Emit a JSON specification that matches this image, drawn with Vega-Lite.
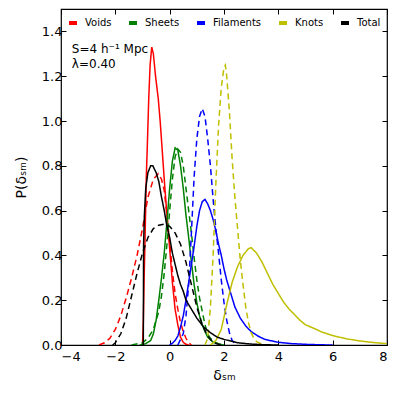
{
  "$schema": "https://vega.github.io/schema/vega-lite/v6.json",
  "width": 326,
  "height": 336,
  "autosize": "none",
  "padding": {"left": 61, "top": 9, "right": 12, "bottom": 51},
  "config": {
    "font": "DejaVu Sans",
    "view": {"stroke": "#000", "strokeWidth": 1.2},
    "axis": {"domain": false, "grid": false, "ticks": true, "tickColor": "#000", "tickSize": -5, "tickWidth": 1, "labelColor": "#000", "labelFontSize": 13, "titleColor": "#000", "titleFontWeight": "normal"}
  },
  "datasets": {
    "curves": [
      {"series": "Voids", "type": "solid", "x": -1.0, "y": 0},
      {"series": "Voids", "type": "solid", "x": -0.97, "y": 0.1},
      {"series": "Voids", "type": "solid", "x": -0.94, "y": 0.3},
      {"series": "Voids", "type": "solid", "x": -0.91, "y": 0.45},
      {"series": "Voids", "type": "solid", "x": -0.86, "y": 0.75},
      {"series": "Voids", "type": "solid", "x": -0.82, "y": 0.9},
      {"series": "Voids", "type": "solid", "x": -0.77, "y": 1.1},
      {"series": "Voids", "type": "solid", "x": -0.72, "y": 1.25},
      {"series": "Voids", "type": "solid", "x": -0.66, "y": 1.33},
      {"series": "Voids", "type": "solid", "x": -0.6, "y": 1.3},
      {"series": "Voids", "type": "solid", "x": -0.52, "y": 1.2},
      {"series": "Voids", "type": "solid", "x": -0.42, "y": 1.1},
      {"series": "Voids", "type": "solid", "x": -0.35, "y": 1.0},
      {"series": "Voids", "type": "solid", "x": -0.28, "y": 0.88},
      {"series": "Voids", "type": "solid", "x": -0.2, "y": 0.74},
      {"series": "Voids", "type": "solid", "x": -0.1, "y": 0.58},
      {"series": "Voids", "type": "solid", "x": 0.0, "y": 0.43},
      {"series": "Voids", "type": "solid", "x": 0.1, "y": 0.28},
      {"series": "Voids", "type": "solid", "x": 0.2, "y": 0.16},
      {"series": "Voids", "type": "solid", "x": 0.3, "y": 0.09},
      {"series": "Voids", "type": "solid", "x": 0.4, "y": 0.035},
      {"series": "Voids", "type": "solid", "x": 0.5, "y": 0.012},
      {"series": "Voids", "type": "solid", "x": 0.6, "y": 0.003},
      {"series": "Voids", "type": "solid", "x": 0.7, "y": 0},

      {"series": "Voids", "type": "dashed", "x": -2.6, "y": 0},
      {"series": "Voids", "type": "dashed", "x": -2.4, "y": 0.01},
      {"series": "Voids", "type": "dashed", "x": -2.2, "y": 0.03},
      {"series": "Voids", "type": "dashed", "x": -2.0, "y": 0.07},
      {"series": "Voids", "type": "dashed", "x": -1.8, "y": 0.13},
      {"series": "Voids", "type": "dashed", "x": -1.6, "y": 0.21},
      {"series": "Voids", "type": "dashed", "x": -1.4, "y": 0.3},
      {"series": "Voids", "type": "dashed", "x": -1.2, "y": 0.4},
      {"series": "Voids", "type": "dashed", "x": -1.0, "y": 0.52},
      {"series": "Voids", "type": "dashed", "x": -0.8, "y": 0.66},
      {"series": "Voids", "type": "dashed", "x": -0.6, "y": 0.74},
      {"series": "Voids", "type": "dashed", "x": -0.42, "y": 0.765},
      {"series": "Voids", "type": "dashed", "x": -0.3, "y": 0.74},
      {"series": "Voids", "type": "dashed", "x": -0.2, "y": 0.69},
      {"series": "Voids", "type": "dashed", "x": -0.1, "y": 0.58},
      {"series": "Voids", "type": "dashed", "x": 0.0, "y": 0.46},
      {"series": "Voids", "type": "dashed", "x": 0.1, "y": 0.33},
      {"series": "Voids", "type": "dashed", "x": 0.2, "y": 0.23},
      {"series": "Voids", "type": "dashed", "x": 0.3, "y": 0.16},
      {"series": "Voids", "type": "dashed", "x": 0.4, "y": 0.1},
      {"series": "Voids", "type": "dashed", "x": 0.5, "y": 0.06},
      {"series": "Voids", "type": "dashed", "x": 0.6, "y": 0.03},
      {"series": "Voids", "type": "dashed", "x": 0.7, "y": 0.01},
      {"series": "Voids", "type": "dashed", "x": 0.8, "y": 0},

      {"series": "Sheets", "type": "solid", "x": -1.1, "y": 0},
      {"series": "Sheets", "type": "solid", "x": -0.9, "y": 0.005},
      {"series": "Sheets", "type": "solid", "x": -0.7, "y": 0.02},
      {"series": "Sheets", "type": "solid", "x": -0.6, "y": 0.05},
      {"series": "Sheets", "type": "solid", "x": -0.5, "y": 0.11},
      {"series": "Sheets", "type": "solid", "x": -0.4, "y": 0.2},
      {"series": "Sheets", "type": "solid", "x": -0.3, "y": 0.3},
      {"series": "Sheets", "type": "solid", "x": -0.2, "y": 0.41},
      {"series": "Sheets", "type": "solid", "x": -0.1, "y": 0.55},
      {"series": "Sheets", "type": "solid", "x": 0.0, "y": 0.7},
      {"series": "Sheets", "type": "solid", "x": 0.1, "y": 0.82},
      {"series": "Sheets", "type": "solid", "x": 0.2, "y": 0.88},
      {"series": "Sheets", "type": "solid", "x": 0.3, "y": 0.87},
      {"series": "Sheets", "type": "solid", "x": 0.4, "y": 0.8},
      {"series": "Sheets", "type": "solid", "x": 0.5, "y": 0.7},
      {"series": "Sheets", "type": "solid", "x": 0.6, "y": 0.58},
      {"series": "Sheets", "type": "solid", "x": 0.7, "y": 0.48},
      {"series": "Sheets", "type": "solid", "x": 0.8, "y": 0.37},
      {"series": "Sheets", "type": "solid", "x": 0.9, "y": 0.27},
      {"series": "Sheets", "type": "solid", "x": 1.0, "y": 0.19},
      {"series": "Sheets", "type": "solid", "x": 1.1, "y": 0.13},
      {"series": "Sheets", "type": "solid", "x": 1.2, "y": 0.09},
      {"series": "Sheets", "type": "solid", "x": 1.3, "y": 0.06},
      {"series": "Sheets", "type": "solid", "x": 1.4, "y": 0.035},
      {"series": "Sheets", "type": "solid", "x": 1.6, "y": 0.012},
      {"series": "Sheets", "type": "solid", "x": 1.8, "y": 0.004},
      {"series": "Sheets", "type": "solid", "x": 2.0, "y": 0},

      {"series": "Sheets", "type": "dashed", "x": -1.4, "y": 0},
      {"series": "Sheets", "type": "dashed", "x": -1.0, "y": 0.01},
      {"series": "Sheets", "type": "dashed", "x": -0.8, "y": 0.03},
      {"series": "Sheets", "type": "dashed", "x": -0.6, "y": 0.07},
      {"series": "Sheets", "type": "dashed", "x": -0.4, "y": 0.15},
      {"series": "Sheets", "type": "dashed", "x": -0.3, "y": 0.22},
      {"series": "Sheets", "type": "dashed", "x": -0.2, "y": 0.32},
      {"series": "Sheets", "type": "dashed", "x": -0.1, "y": 0.45},
      {"series": "Sheets", "type": "dashed", "x": 0.0, "y": 0.6},
      {"series": "Sheets", "type": "dashed", "x": 0.1, "y": 0.74},
      {"series": "Sheets", "type": "dashed", "x": 0.2, "y": 0.84},
      {"series": "Sheets", "type": "dashed", "x": 0.3, "y": 0.875},
      {"series": "Sheets", "type": "dashed", "x": 0.4, "y": 0.86},
      {"series": "Sheets", "type": "dashed", "x": 0.5, "y": 0.8},
      {"series": "Sheets", "type": "dashed", "x": 0.6, "y": 0.7},
      {"series": "Sheets", "type": "dashed", "x": 0.7, "y": 0.6},
      {"series": "Sheets", "type": "dashed", "x": 0.8, "y": 0.5},
      {"series": "Sheets", "type": "dashed", "x": 0.9, "y": 0.39},
      {"series": "Sheets", "type": "dashed", "x": 1.0, "y": 0.29},
      {"series": "Sheets", "type": "dashed", "x": 1.1, "y": 0.21},
      {"series": "Sheets", "type": "dashed", "x": 1.2, "y": 0.15},
      {"series": "Sheets", "type": "dashed", "x": 1.3, "y": 0.09},
      {"series": "Sheets", "type": "dashed", "x": 1.4, "y": 0.05},
      {"series": "Sheets", "type": "dashed", "x": 1.5, "y": 0.03},
      {"series": "Sheets", "type": "dashed", "x": 1.7, "y": 0.01},
      {"series": "Sheets", "type": "dashed", "x": 1.9, "y": 0},

      {"series": "Filaments", "type": "solid", "x": 0.0, "y": 0},
      {"series": "Filaments", "type": "solid", "x": 0.1, "y": 0.008},
      {"series": "Filaments", "type": "solid", "x": 0.2, "y": 0.02},
      {"series": "Filaments", "type": "solid", "x": 0.3, "y": 0.04},
      {"series": "Filaments", "type": "solid", "x": 0.4, "y": 0.08},
      {"series": "Filaments", "type": "solid", "x": 0.5, "y": 0.13},
      {"series": "Filaments", "type": "solid", "x": 0.6, "y": 0.2},
      {"series": "Filaments", "type": "solid", "x": 0.7, "y": 0.28},
      {"series": "Filaments", "type": "solid", "x": 0.8, "y": 0.36},
      {"series": "Filaments", "type": "solid", "x": 0.9, "y": 0.44},
      {"series": "Filaments", "type": "solid", "x": 1.0, "y": 0.53},
      {"series": "Filaments", "type": "solid", "x": 1.1, "y": 0.6},
      {"series": "Filaments", "type": "solid", "x": 1.2, "y": 0.64},
      {"series": "Filaments", "type": "solid", "x": 1.3, "y": 0.65},
      {"series": "Filaments", "type": "solid", "x": 1.4, "y": 0.63},
      {"series": "Filaments", "type": "solid", "x": 1.5, "y": 0.6},
      {"series": "Filaments", "type": "solid", "x": 1.6, "y": 0.56},
      {"series": "Filaments", "type": "solid", "x": 1.7, "y": 0.51},
      {"series": "Filaments", "type": "solid", "x": 1.8, "y": 0.45},
      {"series": "Filaments", "type": "solid", "x": 1.9, "y": 0.4},
      {"series": "Filaments", "type": "solid", "x": 2.0, "y": 0.34},
      {"series": "Filaments", "type": "solid", "x": 2.1, "y": 0.29},
      {"series": "Filaments", "type": "solid", "x": 2.2, "y": 0.25},
      {"series": "Filaments", "type": "solid", "x": 2.4, "y": 0.17},
      {"series": "Filaments", "type": "solid", "x": 2.6, "y": 0.12},
      {"series": "Filaments", "type": "solid", "x": 2.8, "y": 0.085},
      {"series": "Filaments", "type": "solid", "x": 3.0, "y": 0.06},
      {"series": "Filaments", "type": "solid", "x": 3.25, "y": 0.04},
      {"series": "Filaments", "type": "solid", "x": 3.5, "y": 0.025},
      {"series": "Filaments", "type": "solid", "x": 4.0, "y": 0.012},
      {"series": "Filaments", "type": "solid", "x": 4.5, "y": 0.006},
      {"series": "Filaments", "type": "solid", "x": 5.0, "y": 0.003},
      {"series": "Filaments", "type": "solid", "x": 5.5, "y": 0.001},
      {"series": "Filaments", "type": "solid", "x": 6.0, "y": 0},

      {"series": "Filaments", "type": "dashed", "x": 0.3, "y": 0},
      {"series": "Filaments", "type": "dashed", "x": 0.5, "y": 0.05},
      {"series": "Filaments", "type": "dashed", "x": 0.6, "y": 0.13},
      {"series": "Filaments", "type": "dashed", "x": 0.7, "y": 0.27},
      {"series": "Filaments", "type": "dashed", "x": 0.8, "y": 0.5},
      {"series": "Filaments", "type": "dashed", "x": 0.9, "y": 0.75},
      {"series": "Filaments", "type": "dashed", "x": 1.0, "y": 0.92},
      {"series": "Filaments", "type": "dashed", "x": 1.1, "y": 1.02},
      {"series": "Filaments", "type": "dashed", "x": 1.2, "y": 1.055},
      {"series": "Filaments", "type": "dashed", "x": 1.3, "y": 1.02},
      {"series": "Filaments", "type": "dashed", "x": 1.4, "y": 0.92},
      {"series": "Filaments", "type": "dashed", "x": 1.5, "y": 0.8},
      {"series": "Filaments", "type": "dashed", "x": 1.6, "y": 0.65},
      {"series": "Filaments", "type": "dashed", "x": 1.7, "y": 0.52},
      {"series": "Filaments", "type": "dashed", "x": 1.8, "y": 0.41},
      {"series": "Filaments", "type": "dashed", "x": 1.9, "y": 0.29},
      {"series": "Filaments", "type": "dashed", "x": 2.0, "y": 0.19},
      {"series": "Filaments", "type": "dashed", "x": 2.1, "y": 0.11},
      {"series": "Filaments", "type": "dashed", "x": 2.2, "y": 0.055},
      {"series": "Filaments", "type": "dashed", "x": 2.3, "y": 0.02},
      {"series": "Filaments", "type": "dashed", "x": 2.4, "y": 0.008},
      {"series": "Filaments", "type": "dashed", "x": 2.5, "y": 0},

      {"series": "Knots", "type": "solid", "x": 1.5, "y": 0},
      {"series": "Knots", "type": "solid", "x": 1.7, "y": 0.02},
      {"series": "Knots", "type": "solid", "x": 1.9, "y": 0.07},
      {"series": "Knots", "type": "solid", "x": 2.1, "y": 0.18},
      {"series": "Knots", "type": "solid", "x": 2.3, "y": 0.28},
      {"series": "Knots", "type": "solid", "x": 2.5, "y": 0.35},
      {"series": "Knots", "type": "solid", "x": 2.7, "y": 0.4},
      {"series": "Knots", "type": "solid", "x": 2.9, "y": 0.43},
      {"series": "Knots", "type": "solid", "x": 3.0, "y": 0.435},
      {"series": "Knots", "type": "solid", "x": 3.2, "y": 0.41},
      {"series": "Knots", "type": "solid", "x": 3.4, "y": 0.37},
      {"series": "Knots", "type": "solid", "x": 3.6, "y": 0.32},
      {"series": "Knots", "type": "solid", "x": 3.8, "y": 0.27},
      {"series": "Knots", "type": "solid", "x": 4.0, "y": 0.23},
      {"series": "Knots", "type": "solid", "x": 4.2, "y": 0.19},
      {"series": "Knots", "type": "solid", "x": 4.4, "y": 0.16},
      {"series": "Knots", "type": "solid", "x": 4.6, "y": 0.135},
      {"series": "Knots", "type": "solid", "x": 4.8, "y": 0.11},
      {"series": "Knots", "type": "solid", "x": 5.0, "y": 0.09},
      {"series": "Knots", "type": "solid", "x": 5.3, "y": 0.075},
      {"series": "Knots", "type": "solid", "x": 5.6, "y": 0.058},
      {"series": "Knots", "type": "solid", "x": 6.0, "y": 0.042},
      {"series": "Knots", "type": "solid", "x": 6.5, "y": 0.028},
      {"series": "Knots", "type": "solid", "x": 7.0, "y": 0.018},
      {"series": "Knots", "type": "solid", "x": 7.5, "y": 0.011},
      {"series": "Knots", "type": "solid", "x": 8.0, "y": 0.006},

      {"series": "Knots", "type": "dashed", "x": 1.3, "y": 0},
      {"series": "Knots", "type": "dashed", "x": 1.4, "y": 0.03},
      {"series": "Knots", "type": "dashed", "x": 1.5, "y": 0.17},
      {"series": "Knots", "type": "dashed", "x": 1.6, "y": 0.4},
      {"series": "Knots", "type": "dashed", "x": 1.7, "y": 0.72},
      {"series": "Knots", "type": "dashed", "x": 1.8, "y": 0.98},
      {"series": "Knots", "type": "dashed", "x": 1.9, "y": 1.15},
      {"series": "Knots", "type": "dashed", "x": 2.0, "y": 1.24},
      {"series": "Knots", "type": "dashed", "x": 2.05, "y": 1.25},
      {"series": "Knots", "type": "dashed", "x": 2.1, "y": 1.2},
      {"series": "Knots", "type": "dashed", "x": 2.2, "y": 1.04},
      {"series": "Knots", "type": "dashed", "x": 2.3, "y": 0.83},
      {"series": "Knots", "type": "dashed", "x": 2.4, "y": 0.66},
      {"series": "Knots", "type": "dashed", "x": 2.5, "y": 0.52},
      {"series": "Knots", "type": "dashed", "x": 2.6, "y": 0.38},
      {"series": "Knots", "type": "dashed", "x": 2.7, "y": 0.27},
      {"series": "Knots", "type": "dashed", "x": 2.8, "y": 0.17},
      {"series": "Knots", "type": "dashed", "x": 2.9, "y": 0.1},
      {"series": "Knots", "type": "dashed", "x": 3.0, "y": 0.055},
      {"series": "Knots", "type": "dashed", "x": 3.1, "y": 0.03},
      {"series": "Knots", "type": "dashed", "x": 3.2, "y": 0.015},
      {"series": "Knots", "type": "dashed", "x": 3.4, "y": 0.003},
      {"series": "Knots", "type": "dashed", "x": 3.6, "y": 0},

      {"series": "Total", "type": "solid", "x": -1.0, "y": 0},
      {"series": "Total", "type": "solid", "x": -0.97, "y": 0},
      {"series": "Total", "type": "solid", "x": -0.96, "y": 0.45},
      {"series": "Total", "type": "solid", "x": -0.93, "y": 0.58},
      {"series": "Total", "type": "solid", "x": -0.88, "y": 0.7},
      {"series": "Total", "type": "solid", "x": -0.8, "y": 0.77},
      {"series": "Total", "type": "solid", "x": -0.7, "y": 0.8},
      {"series": "Total", "type": "solid", "x": -0.62, "y": 0.8},
      {"series": "Total", "type": "solid", "x": -0.5, "y": 0.77},
      {"series": "Total", "type": "solid", "x": -0.4, "y": 0.73},
      {"series": "Total", "type": "solid", "x": -0.3, "y": 0.66},
      {"series": "Total", "type": "solid", "x": -0.2, "y": 0.6},
      {"series": "Total", "type": "solid", "x": -0.1, "y": 0.53},
      {"series": "Total", "type": "solid", "x": 0.0, "y": 0.48},
      {"series": "Total", "type": "solid", "x": 0.1, "y": 0.41},
      {"series": "Total", "type": "solid", "x": 0.2, "y": 0.36},
      {"series": "Total", "type": "solid", "x": 0.3, "y": 0.31},
      {"series": "Total", "type": "solid", "x": 0.4, "y": 0.27},
      {"series": "Total", "type": "solid", "x": 0.5, "y": 0.24},
      {"series": "Total", "type": "solid", "x": 0.6, "y": 0.2},
      {"series": "Total", "type": "solid", "x": 0.75, "y": 0.17},
      {"series": "Total", "type": "solid", "x": 1.0, "y": 0.12},
      {"series": "Total", "type": "solid", "x": 1.25, "y": 0.08},
      {"series": "Total", "type": "solid", "x": 1.5, "y": 0.055},
      {"series": "Total", "type": "solid", "x": 1.75, "y": 0.035},
      {"series": "Total", "type": "solid", "x": 2.0, "y": 0.025},
      {"series": "Total", "type": "solid", "x": 2.5, "y": 0.01},
      {"series": "Total", "type": "solid", "x": 3.0, "y": 0.004},
      {"series": "Total", "type": "solid", "x": 3.5, "y": 0.001},
      {"series": "Total", "type": "solid", "x": 4.0, "y": 0},

      {"series": "Total", "type": "dashed", "x": -2.1, "y": 0},
      {"series": "Total", "type": "dashed", "x": -2.0, "y": 0.01},
      {"series": "Total", "type": "dashed", "x": -1.8, "y": 0.05},
      {"series": "Total", "type": "dashed", "x": -1.6, "y": 0.12},
      {"series": "Total", "type": "dashed", "x": -1.4, "y": 0.22},
      {"series": "Total", "type": "dashed", "x": -1.2, "y": 0.32},
      {"series": "Total", "type": "dashed", "x": -1.0, "y": 0.41},
      {"series": "Total", "type": "dashed", "x": -0.8, "y": 0.48},
      {"series": "Total", "type": "dashed", "x": -0.6, "y": 0.52},
      {"series": "Total", "type": "dashed", "x": -0.4, "y": 0.535},
      {"series": "Total", "type": "dashed", "x": -0.2, "y": 0.54},
      {"series": "Total", "type": "dashed", "x": 0.0, "y": 0.53},
      {"series": "Total", "type": "dashed", "x": 0.2, "y": 0.5},
      {"series": "Total", "type": "dashed", "x": 0.4, "y": 0.45},
      {"series": "Total", "type": "dashed", "x": 0.6, "y": 0.37},
      {"series": "Total", "type": "dashed", "x": 0.8, "y": 0.27},
      {"series": "Total", "type": "dashed", "x": 1.0, "y": 0.17},
      {"series": "Total", "type": "dashed", "x": 1.2, "y": 0.09},
      {"series": "Total", "type": "dashed", "x": 1.4, "y": 0.04},
      {"series": "Total", "type": "dashed", "x": 1.6, "y": 0.012},
      {"series": "Total", "type": "dashed", "x": 1.8, "y": 0.003},
      {"series": "Total", "type": "dashed", "x": 2.0, "y": 0}
    ],
    "notes": [
      {"x": -3.6, "y": 1.32, "label": "S=4 h⁻¹ Mpc"},
      {"x": -3.6, "y": 1.255, "label": "λ=0.40"}
    ]
  },
  "resolve": {"axis": {"x": "independent", "y": "independent"}},
  "layer": [
    {
      "data": {"name": "curves"},
      "mark": {"type": "line", "strokeWidth": 1.5, "clip": true},
      "encoding": {
        "x": {"field": "x", "type": "quantitative", "scale": {"domain": [-4, 8], "nice": false}, "axis": {"orient": "bottom", "values": [-4, -2, 0, 2, 4, 6, 8], "labelExpr": "replace(datum.label, '-', '−')", "title": "δₛₘ", "titleFontSize": 14, "titlePadding": 5, "labelPadding": 10}},
        "y": {"field": "y", "type": "quantitative", "scale": {"domain": [0, 1.5], "nice": false}, "axis": {"orient": "left", "values": [0, 0.2, 0.4, 0.6, 0.8, 1.0, 1.2, 1.4], "format": ".1f", "title": "P(δₛₘ)", "titleFontSize": 14, "titlePadding": 13, "labelPadding": 4}},
        "color": {"field": "series", "type": "nominal", "scale": {"domain": ["Voids", "Sheets", "Filaments", "Knots", "Total"], "range": ["#ff0000", "#008000", "#0000ff", "#bfbf00", "#000000"]},
          "legend": {"orient": "none", "legendX": 6, "legendY": 8, "direction": "horizontal", "title": null, "symbolType": "stroke", "symbolStrokeWidth": 4, "symbolSize": 64, "symbolDash": [], "labelFontSize": 10, "labelOffset": 6, "columnPadding": 9, "labelColor": "#000"}},
        "strokeDash": {"field": "type", "type": "nominal", "scale": {"domain": ["solid", "dashed"], "range": [[1, 0], [6, 4]]}, "legend": null},
        "detail": {"field": "type"}
      }
    },
    {
      "data": {"name": "notes"},
      "mark": {"type": "text", "align": "left", "baseline": "middle", "fontSize": 12, "color": "#000"},
      "encoding": {
        "x": {"field": "x", "type": "quantitative", "axis": {"orient": "top", "values": [-4, -2, 0, 2, 4, 6, 8], "labels": false, "title": null}},
        "y": {"field": "y", "type": "quantitative", "axis": {"orient": "right", "values": [0, 0.2, 0.4, 0.6, 0.8, 1.0, 1.2, 1.4], "labels": false, "title": null}},
        "text": {"field": "label"}
      }
    }
  ]
}
